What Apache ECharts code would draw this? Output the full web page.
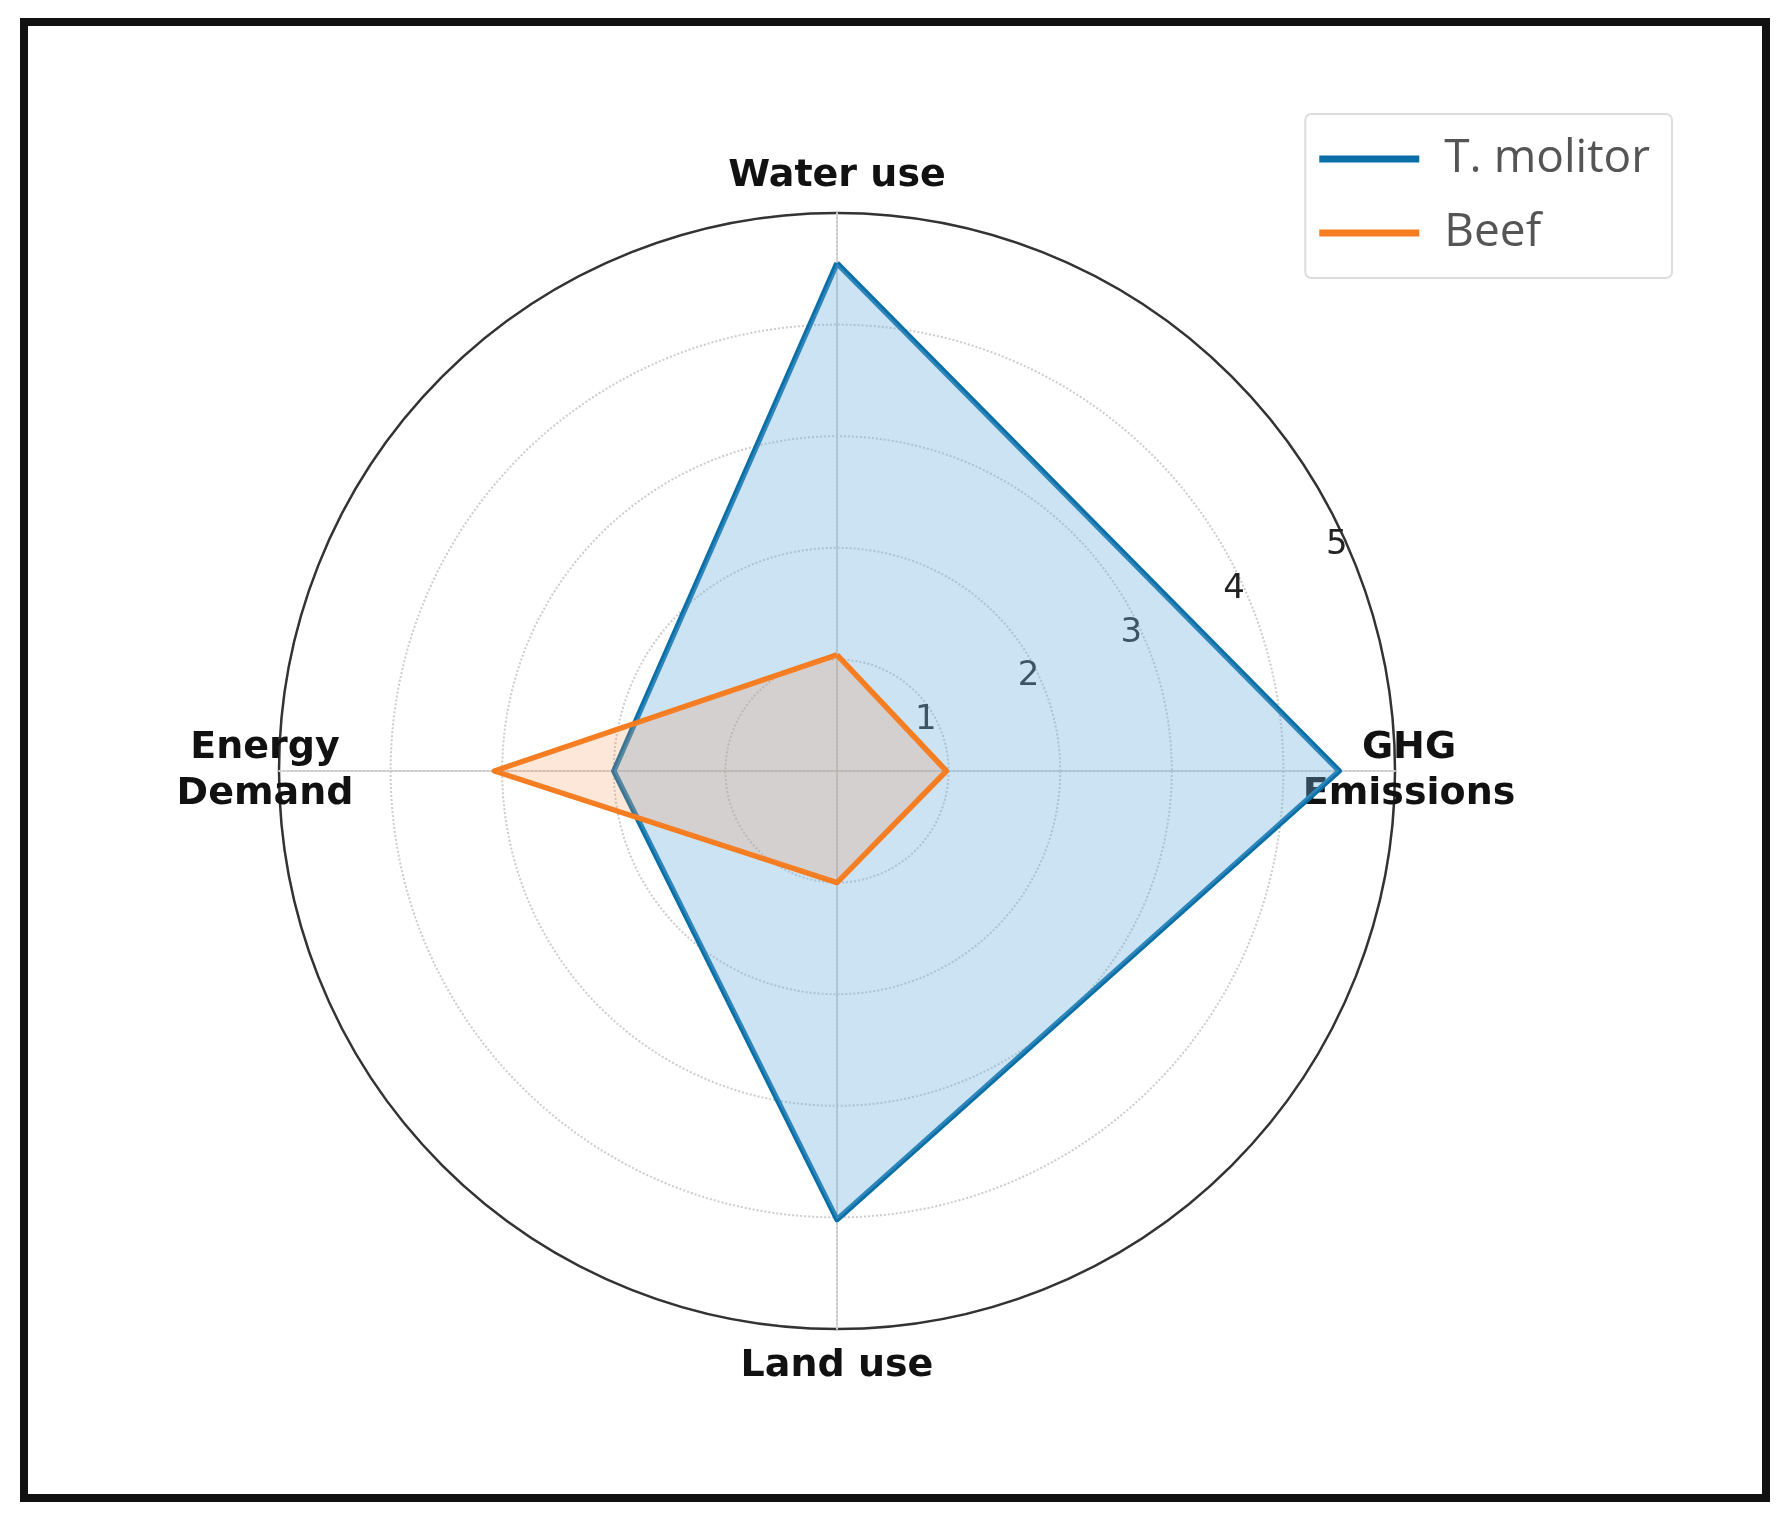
<!DOCTYPE html>
<html>
<head>
<meta charset="utf-8">
<script src="https://cdn.jsdelivr.net/npm/echarts@6/dist/echarts.min.js"></script>
<style>
  html, body { margin: 0; padding: 0; background: #fff; }
  #frame { position: absolute; left: 20px; top: 18px; width: 1750px; height: 1484px; border: 8px solid #111; box-sizing: border-box; }
  #chart { position: absolute; left: 0; top: 0; width: 1790px; height: 1529px; }
</style>
</head>
<body>
<div id="frame"></div>
<div id="chart"></div>
<script>
  var indicators = ['Water use', 'Energy\nDemand', 'Land use', 'GHG\nEmissions'];
  var molitorValues = [4.55, 2.0, 4.02, 4.5];
  var beefValues = [1.04, 3.07, 1.0, 0.98];
  var tickLabels = [1, 2, 3, 4, 5];

  var center = [837, 771];
  var radius = 558;

  var chart = echarts.init(document.getElementById('chart'));
  chart.setOption({
    animation: false,
    legend: {
      right: 118, top: 114,
      orient: 'vertical',
      itemWidth: 100, itemHeight: 7, itemGap: 28,
      padding: [22, 22, 22, 14],
      borderColor: '#ddd', borderWidth: 2, borderRadius: 6,
      textStyle: { fontSize: 46, color: '#555', fontFamily: 'Open Sans', padding: [0, 0, 0, 20] },
      icon: 'rect',
      data: ['T. molitor', 'Beef']
    },
    radar: {
      center: center, radius: radius,
      shape: 'circle', splitNumber: 5, min: 0, max: 5,
      indicator: indicators.map(function (n) { return { name: n, max: 5, min: 0 }; }),
      axisName: { color: '#111', fontSize: 38, fontWeight: 'bold', fontFamily: 'DejaVu Sans', lineHeight: 46, align: 'center' },
      nameGap: 14,
      splitArea: { show: false },
      splitLine: { lineStyle: { color: '#ccc', type: 'dotted', width: 2 } },
      axisLine: { lineStyle: { color: '#ccc', type: 'dotted', width: 2 } }
    },
    polar: { center: center, radius: radius },
    angleAxis: {
      startAngle: 23, min: 0, max: 360,
      axisLine: { lineStyle: { color: '#333', width: 2.5 } },
      axisTick: { show: false }, axisLabel: { show: false }, splitLine: { show: false }
    },
    radiusAxis: {
      min: 0, max: 5, interval: 1,
      axisLine: { show: false }, axisTick: { show: false }, splitLine: { show: false },
      axisLabel: {
        fontSize: 34, color: '#222', fontFamily: 'DejaVu Sans',
        formatter: function (v) { return tickLabels.indexOf(v) >= 0 ? String(v) : ''; }
      }
    },
    series: [{
      type: 'radar',
      symbol: 'none',
      data: [
        { name: 'T. molitor', value: molitorValues,
          lineStyle: { color: '#0a6fa6', width: 5.5 }, itemStyle: { color: '#0a6fa6' },
          areaStyle: { color: 'rgba(110,175,225,0.5)' } },
        { name: 'Beef', value: beefValues,
          lineStyle: { color: '#f57c1f', width: 5.5 }, itemStyle: { color: '#f57c1f' },
          areaStyle: { color: 'rgba(245,140,70,0.3)' } }
      ]
    }]
  });
</script>
</body>
</html>
